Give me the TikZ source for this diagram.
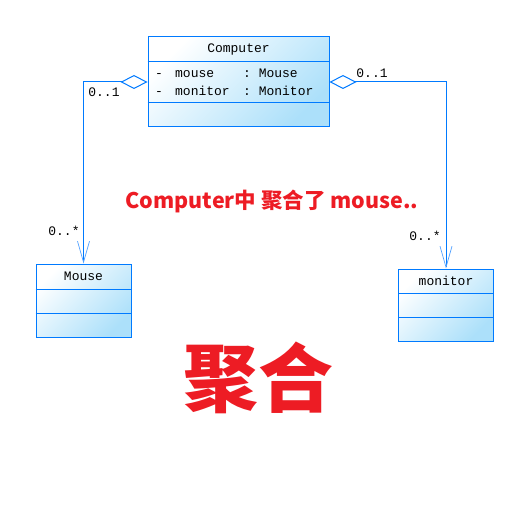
\documentclass[tikz,border=0pt]{standalone}
\usepackage{fontspec}
\setmonofont{Liberation Mono}
\newfontfamily\cjk{Noto Sans CJK SC}
\usetikzlibrary{arrows.meta}
\definecolor{umlblue}{RGB}{0,122,255}
\definecolor{umlfill}{RGB}{172,224,250}
\definecolor{tipblue}{RGB}{80,160,255}
\definecolor{notered}{RGB}{237,28,36}

\begin{document}
\begin{tikzpicture}[x=1pt,y=-1pt,
      class/.style={draw=umlblue,line width=1pt,left color=white,right color=umlfill,shading angle=45,inner sep=0pt},
      uml/.style={font=\ttfamily\fontsize{13}{15}\selectfont,inner sep=0pt},
      aggr/.style={draw=umlblue,line width=1pt,
        {Diamond[fill=white,length=27pt,width=14pt]}-{Straight Barb[color=tipblue,length=21pt,width=12pt,line width=.7pt]}},
      note/.style={text=notered,inner sep=0pt,font=\cjk\bfseries\fontsize{21.5}{26}\selectfont}
      ]
      \useasboundingbox (0,0) rectangle (513,505);

      % Computer
      \node[class,minimum width=181pt,minimum height=90pt] (computer) at (238.5,82) {};
      \node[uml] (computername) at (238.5,49.5) {Computer};
      \draw[umlblue,line width=1pt] (computer.west |- 0,62) -- (computer.east |- 0,62)
        (computer.west |- 0,103) -- (computer.east |- 0,103);
      \node[uml,anchor=west] (mouseattr) at (155,73) {\makebox[20pt][l]{-}\makebox[68pt][l]{mouse}: Mouse};
      \node[uml,anchor=west] (monitorattr) at (155,91) {\makebox[20pt][l]{-}\makebox[68pt][l]{monitor}: Monitor};

      % Mouse
      \node[class,minimum width=95pt,minimum height=73pt] (mouse) at (83.5,300.5) {};
      \node[uml] (mousename) at (83.5,276) {Mouse};
      \draw[umlblue,line width=1pt] (mouse.west |- 0,289) -- (mouse.east |- 0,289)
        (mouse.west |- 0,313) -- (mouse.east |- 0,313);

      % monitor
      \node[class,minimum width=95pt,minimum height=72pt] (monitor) at (446,305) {};
      \node[uml] (monitorname) at (446,281) {monitor};
      \draw[umlblue,line width=1pt] (monitor.west |- 0,293) -- (monitor.east |- 0,293)
        (monitor.west |- 0,317) -- (monitor.east |- 0,317);

      \draw[aggr] (computer.west) -| (mouse.north);
      \draw[aggr] (computer.east) -| (monitor.north);
      \node[uml] (mousesrc) at (104,92) {0..1};
      \node[uml] (mousedst) at (64,231) {0..*};
      \node[uml] (monitorsrc) at (372,73) {0..1};
      \node[uml] (monitordst) at (425,236) {0..*};

      \node[note] (caption) at (272,201) {Computer中 聚合了 mouse..};
      \node[note,font=\cjk\bfseries\fontsize{75}{80}\selectfont] (title) at (258,378) {聚合};
    \end{tikzpicture}
\end{document}
